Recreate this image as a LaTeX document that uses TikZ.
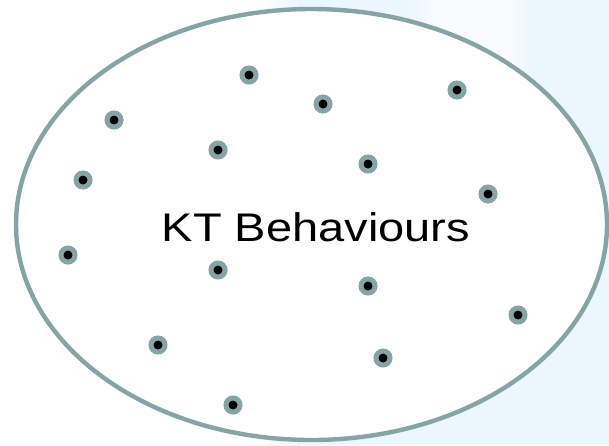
\documentclass[tikz,border=0pt]{standalone}
\usepackage{fontspec}
\usepackage{graphicx}
\setmainfont{Liberation Sans}
\definecolor{rimgray}{RGB}{134,164,165}
\definecolor{paleblue}{RGB}{236,246,253}
\begin{document}
\begin{tikzpicture}[x=1pt,y=-1pt,
  rim/.style={draw=rimgray,line width=4.4pt,fill=white},
  dot/.style={circle,fill=black,draw=rimgray,line width=5pt,minimum size=14pt,inner sep=0pt},
  title/.style={font=\fontsize{47}{47}\selectfont,inner sep=0pt}]
\useasboundingbox (0,0) rectangle (609,445);
% backdrop with soft edges
\fill[white] (0,0) rectangle (609,445);
\fill[paleblue] (300,0) rectangle (609,445);
\shade[left color=white,right color=paleblue] (255,0) rectangle (300,445);
\shade[left color=paleblue,right color=white!70!paleblue] (410,0) rectangle (440,110);
\fill[white!70!paleblue] (440,0) rectangle (505,110);
\shade[left color=white!70!paleblue,right color=paleblue] (505,0) rectangle (530,110);
% the set
\draw[rim] (311.5,224.5) ellipse [x radius=295.5, y radius=215.5];
\node[title] (label) at (316,227) {\scalebox{1}[0.85]{KT Behaviours}};
% members
\node[dot] (d1)  at (249,75)  {};
\node[dot] (d2)  at (323,104) {};
\node[dot] (d3)  at (457,90)  {};
\node[dot] (d4)  at (114,120) {};
\node[dot] (d5)  at (218,150) {};
\node[dot] (d6)  at (368,164) {};
\node[dot] (d7)  at (83,180)  {};
\node[dot] (d8)  at (488,194) {};
\node[dot] (d9)  at (68,255)  {};
\node[dot] (d10) at (218,270) {};
\node[dot] (d11) at (368,286) {};
\node[dot] (d12) at (518,315) {};
\node[dot] (d13) at (158,345) {};
\node[dot] (d14) at (383,358) {};
\node[dot] (d15) at (233,405) {};
\end{tikzpicture}
\end{document}
